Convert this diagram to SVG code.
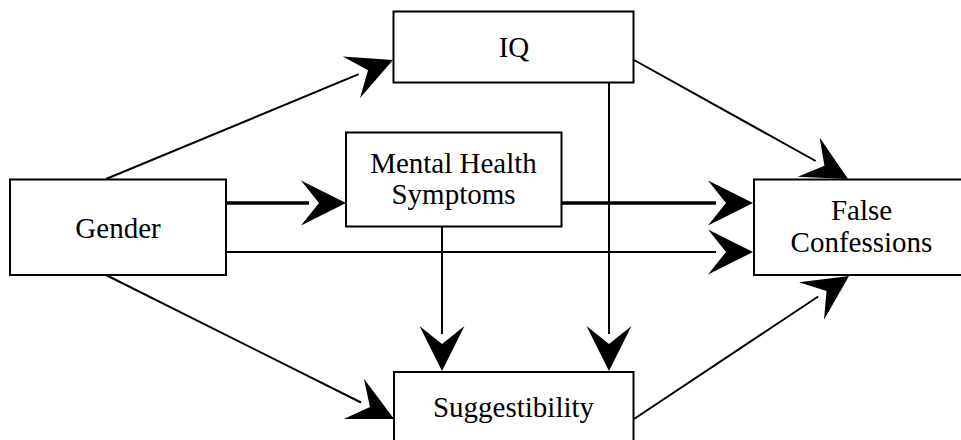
<svg xmlns="http://www.w3.org/2000/svg" width="961" height="440" viewBox="0 0 961 440">
<style>
.box{fill:#fff;stroke:#000;stroke-width:2}
text{font-family:'Liberation Serif','DejaVu Serif',serif;font-size:29px;fill:#000;text-anchor:middle}
.thin{stroke:#000;stroke-width:2;fill:none;marker-end:url(#ah)}
.thick{stroke:#000;stroke-width:3.5;fill:none;marker-end:url(#ah)}
</style>
<defs>
<marker id="ah" markerUnits="userSpaceOnUse" orient="auto" refX="0" refY="0" markerWidth="100" markerHeight="100" overflow="visible">
<path d="M37,0 L-8,-22.5 L10,0 L-8,22.5 Z" fill="#000"/>
</marker>
</defs>
<rect width="961" height="440" fill="#fff"/>
<g id="connectors">
<line class="thin" x1="106" y1="179" x2="358.8" y2="74.2"/>
<line class="thick" x1="226" y1="203" x2="309" y2="203"/>
<line class="thick" x1="561" y1="203" x2="716" y2="203"/>
<line class="thin" x1="226" y1="252" x2="716" y2="252"/>
<line class="thin" x1="634" y1="60" x2="815.7" y2="161"/>
<line class="thin" x1="609" y1="83" x2="609" y2="334"/>
<line class="thin" x1="442" y1="227" x2="442" y2="334"/>
<line class="thin" x1="106" y1="275" x2="361" y2="402.5"/>
<line class="thin" x1="634" y1="419" x2="818.2" y2="296.5"/>
</g>
<g id="iq">
<rect class="box" x="393.5" y="11.5" width="240" height="71"/>
<text x="514" y="57" font-family="Liberation Serif, serif">IQ</text>
</g>
<g id="mental-health">
<rect class="box" x="346" y="132.5" width="215.5" height="94"/>
<text x="453.5" y="173" font-family="Liberation Serif, serif">Mental Health</text>
<text x="453.5" y="204" font-family="Liberation Serif, serif">Symptoms</text>
</g>
<g id="gender">
<rect class="box" x="10" y="179.5" width="216" height="95.5"/>
<text x="118" y="238" font-family="Liberation Serif, serif">Gender</text>
</g>
<g id="false-confessions">
<rect class="box" x="754" y="179.5" width="215" height="95.5"/>
<text x="861.5" y="220" font-family="Liberation Serif, serif">False</text>
<text x="861.5" y="252" font-family="Liberation Serif, serif">Confessions</text>
</g>
<g id="suggestibility">
<rect class="box" x="394" y="372" width="239.5" height="72"/>
<text x="513.5" y="417" font-family="Liberation Serif, serif">Suggestibility</text>
</g>
</svg>
